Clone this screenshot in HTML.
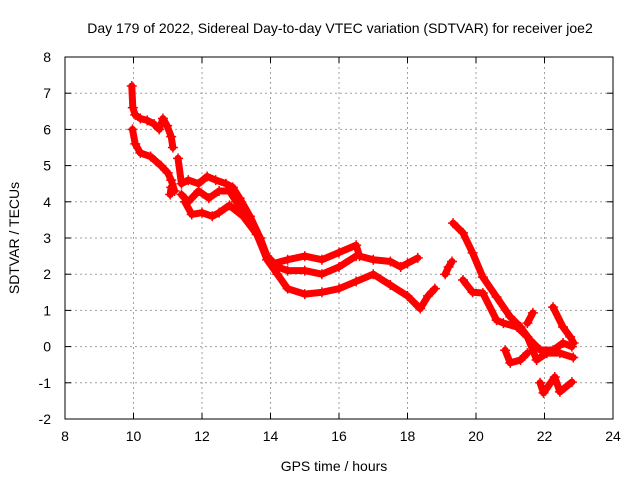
<!DOCTYPE html>
<html><head><meta charset="utf-8"><style>
body{margin:0;background:#fff;}
svg{display:block;font-family:"Liberation Sans",sans-serif;}
</style></head><body>
<svg id="chart" width="640" height="480" viewBox="0 0 640 480">
<text x="340" y="33" font-size="14" text-anchor="middle">Day 179 of 2022, Sidereal Day-to-day VTEC variation (SDTVAR) for receiver joe2</text>
<text x="334" y="471" font-size="14" text-anchor="middle">GPS time / hours</text>
<text transform="translate(19,238) rotate(-90)" font-size="14" text-anchor="middle">SDTVAR / TECUs</text>
<g id="grid"></g><g id="ticks"></g><g id="series"></g>
<rect x="65" y="57" width="548" height="362" fill="none" stroke="#000" stroke-width="1"/>
</svg>
<script>
const xTicks=[8,10,12,14,16,18,20,22,24];
const yTicks=[-2,-1,0,1,2,3,4,5,6,7,8];
const t1Hours=[9.95,9.98,10.05,10.2,10.4,10.6,10.75,10.86,10.98,11.1,11.15];
const t1Values=[7.2,6.6,6.4,6.3,6.25,6.15,6.0,6.3,6.1,5.8,5.5];
const t2Hours=[9.97,10.05,10.2,10.5,10.8,11.0,11.1,11.2,11.1,11.07];
const t2Values=[6.0,5.6,5.35,5.25,5.0,4.8,4.6,4.3,4.4,4.2];
const t3Hours=[11.3,11.4,11.6,11.9,12.15,12.4,12.7,12.9,13.1,13.4,13.7,13.9,14.1,14.5,15.0,15.5,16.0,16.5,16.6,17.0,17.5,17.8,18.0,18.3];
const t3Values=[5.2,4.5,4.6,4.5,4.7,4.6,4.5,4.4,4.1,3.6,3.0,2.5,2.3,2.4,2.5,2.4,2.6,2.8,2.5,2.4,2.35,2.2,2.3,2.45];
const t4Hours=[11.4,11.6,11.9,12.2,12.5,12.8,13.0,13.3,13.6,13.9,14.2,14.5,15.0,15.5,16.0,16.5];
const t4Values=[4.2,4.0,4.3,4.1,4.3,4.3,4.0,3.6,3.1,2.5,2.2,2.1,2.1,2.0,2.2,2.5];
const t5Hours=[11.5,11.7,12.0,12.3,12.5,12.8,13.2,13.6,13.9,14.2,14.5,15.0,15.5,16.0,16.5,17.0,17.5,18.0,18.37,18.6,18.8];
const t5Values=[4.0,3.65,3.7,3.6,3.7,3.9,3.6,3.1,2.4,2.0,1.6,1.45,1.5,1.6,1.8,2.0,1.7,1.4,1.05,1.4,1.6];
const t6Hours=[19.1,19.2,19.3];
const t6Values=[2.0,2.2,2.35];
const t7Hours=[19.33,19.62,19.9,20.2,20.6,21.0,21.3,21.58,21.87,22.25,22.54,22.8];
const t7Values=[3.41,3.14,2.59,1.92,1.37,0.82,0.54,0.18,-0.09,-0.1,0.1,0.0];
const t8Hours=[19.62,19.9,20.2,20.6,20.8,21.2,21.5,21.66,21.77,22.07,22.45,22.84];
const t8Values=[1.84,1.5,1.48,0.73,0.65,0.54,0.27,-0.1,-0.37,-0.18,-0.18,-0.3];
const t9Hours=[21.66,21.5];
const t9Values=[0.93,0.65];
const t10Hours=[22.25,22.54,22.75,22.85];
const t10Values=[1.09,0.54,0.27,0.1];
const t11Hours=[20.85,21.0,21.3,21.5];
const t11Values=[-0.1,-0.45,-0.37,-0.18];
const t12Hours=[21.87,21.97,22.3,22.45,22.8];
const t12Values=[-1.0,-1.28,-0.84,-1.25,-0.98];
const trackHours=[t1Hours,t2Hours,t3Hours,t4Hours,t5Hours,t6Hours,t7Hours,t8Hours,t9Hours,t10Hours,t11Hours,t12Hours];
const trackValues=[t1Values,t2Values,t3Values,t4Values,t5Values,t6Values,t7Values,t8Values,t9Values,t10Values,t11Values,t12Values];

const X0=65,X1=613,Y0=419,Y1=57;
function xs(h){return X0+(h-8)/(24-8)*(X1-X0);}
function ys(v){return Y0-(v+2)/(8+2)*(Y0-Y1);}
const NS="http://www.w3.org/2000/svg";
function mk(tag,attrs,parent){const e=document.createElementNS(NS,tag);for(const k in attrs)e.setAttribute(k,attrs[k]);parent.appendChild(e);return e;}
const grid=document.getElementById('grid'),ticks=document.getElementById('ticks'),series=document.getElementById('series');
xTicks.forEach(t=>{const x=xs(t);
 if(t>8&&t<24){const g=mk('line',{x1:x,x2:x,y1:Y1,y2:Y0,stroke:'#a0a0a0','stroke-dasharray':'2,3'},grid);
 
 }
 mk('line',{x1:x,x2:x,y1:Y0,y2:Y0-6,stroke:'#000'},ticks);
 mk('line',{x1:x,x2:x,y1:Y1,y2:Y1+6,stroke:'#000'},ticks);
 const l=mk('text',{x:x,y:Y0+22,'font-size':14,'text-anchor':'middle'},ticks);l.textContent=t;
 
 
});
yTicks.forEach(t=>{const y=ys(t);
 if(t>-2&&t<8){const g=mk('line',{x1:X0,x2:X1,y1:y,y2:y,stroke:'#a0a0a0','stroke-dasharray':'2,3'},grid);
 
 }
 mk('line',{x1:X0,x2:X0+6,y1:y,y2:y,stroke:'#000'},ticks);
 mk('line',{x1:X1,x2:X1-6,y1:y,y2:y,stroke:'#000'},ticks);
 const l=mk('text',{x:X0-14,y:y+5,'font-size':14,'text-anchor':'end'},ticks);l.textContent=t;
 
 
});
trackHours.forEach((hs,i)=>{const vs=trackValues[i];
 const pts=hs.map((h,j)=>xs(h)+','+ys(vs[j])).join(' ');
 const pl=mk('polyline',{points:pts,fill:'none',stroke:'#ff0000','stroke-width':7,'stroke-linejoin':'round','stroke-linecap':'round'},series);
 
 
 hs.forEach((h,j)=>{const x=xs(h),y=ys(vs[j]);
  const p=mk('path',{d:`M${x-5},${y}H${x+5}M${x},${y-5}V${y+5}`,stroke:'#ff0000','stroke-width':1.5},series);
  
  
 });
});
</script>
</body></html>
